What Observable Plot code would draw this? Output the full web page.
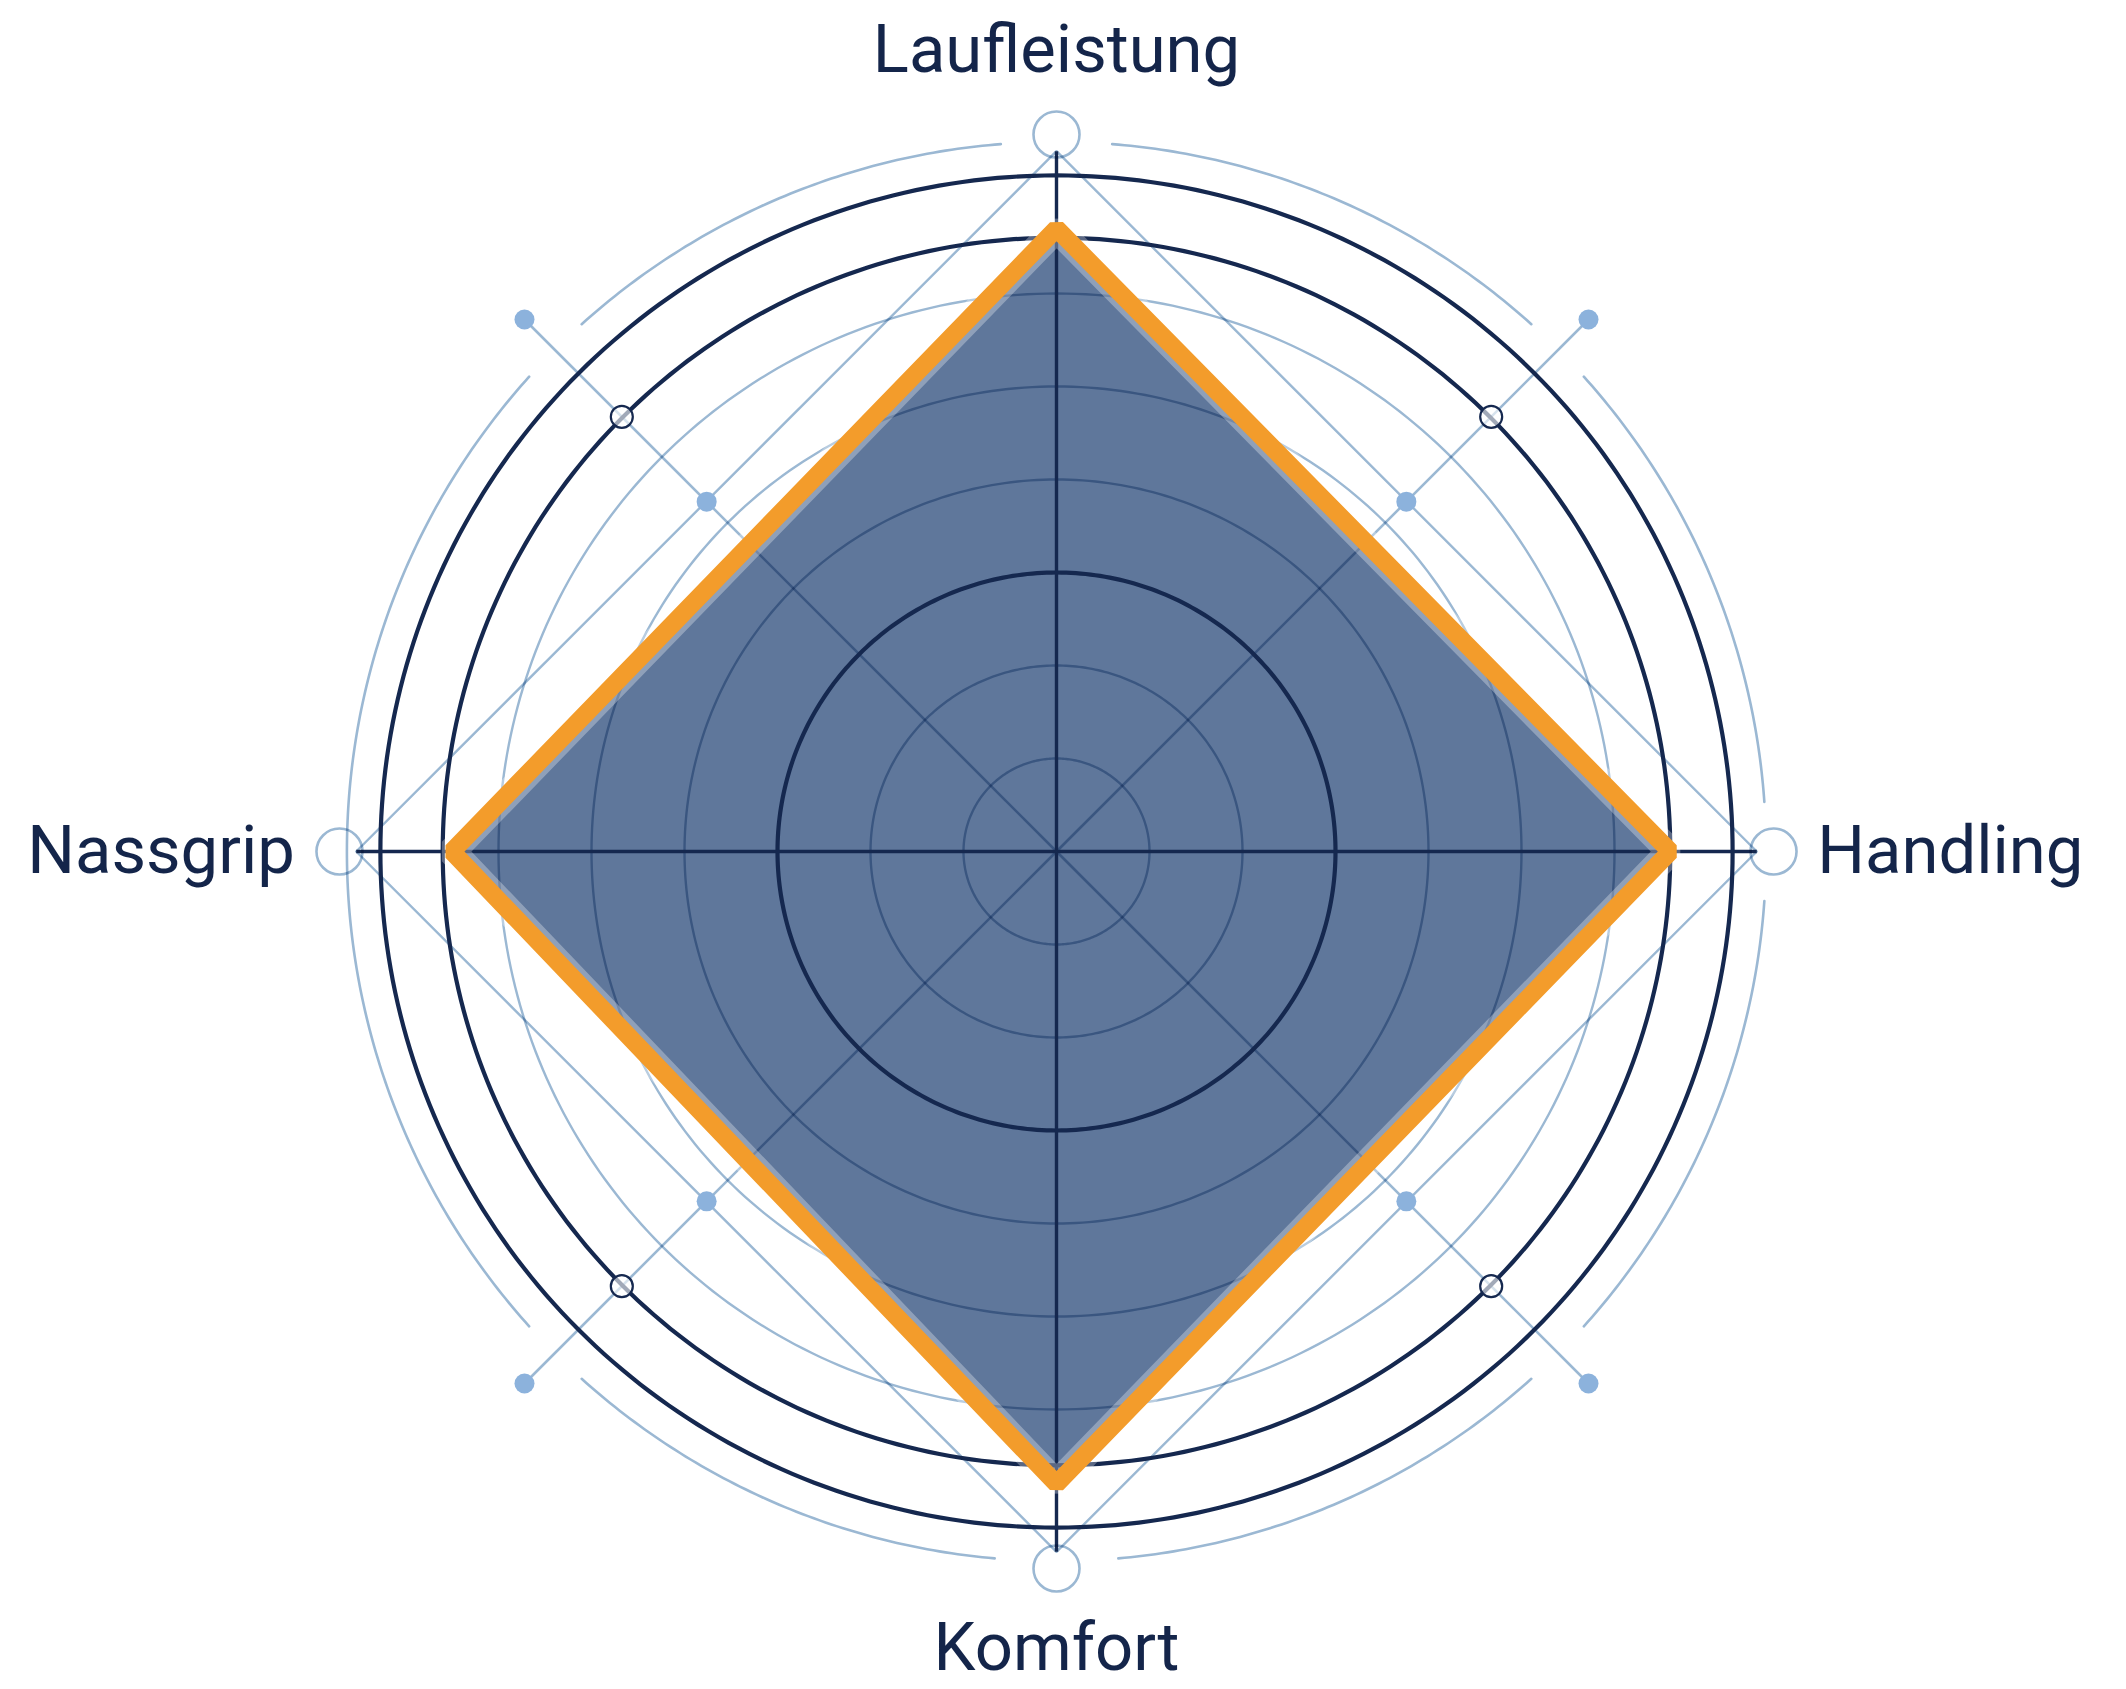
<!DOCTYPE html>
<html><head><meta charset="utf-8">
<script src="https://cdn.jsdelivr.net/npm/d3@7"></script>
<script src="https://cdn.jsdelivr.net/npm/@observablehq/plot@0.6"></script>
<style>
html,body{margin:0;padding:0;background:#fff;}
#chart svg{display:block}
</style></head><body><div id="chart"></div>
<script>
// ---- data ----
const categories = ["Laufleistung", "Handling", "Komfort", "Nassgrip"];
const axisAngles = [90, 0, 270, 180];          // degrees, counter-clockwise from east
const scores = [6.7, 6.6, 6.8, 6.5];            // radar values (grid units)
const lightRingLevels = [1, 2, 4, 5, 6];
const darkRingLevels = [3, 6.6, 7.27];
const outerRingLevel = 7.63;
const outerRingGaps = [[90, 4.5], [0, 4], [270, 5], [45, 3], [135, 3], [225, 3], [315, 3]];
const axisEndLevel = 7.53;
const diagonalAngles = [45, 135, 225, 315];
const diagonalEndLevel = 8.09;
const innerDotLevel = 5.32;
const markerLevel = 6.61;
const endCircleLevel = 7.71;
const labelLevels = [8.38, 8.18, 8.29, 8.19];

// ---- helpers ----
const rad = d => d * Math.PI / 180;
const P = (deg, r, extra = {}) => ({x: r * Math.cos(rad(deg)), y: r * Math.sin(rad(deg)), ...extra});

function ringPoints(levels) {
  const pts = [];
  levels.forEach((lv, i) => { for (let a = 0; a <= 360; a += 1) pts.push(P(a, lv, {z: i})); });
  return pts;
}
function gappedRing(level, gaps) {
  const pts = [];
  let seg = 0, prevIn = false;
  const inGap = a => gaps.some(([c, h]) => Math.abs(((a - c) % 360 + 540) % 360 - 180) < h);
  for (let a = 0; a <= 360; a += 0.5) {
    if (inGap(a)) { if (prevIn) seg++; prevIn = false; continue; }
    pts.push(P(a, level, {z: seg}));
    prevIn = true;
  }
  return pts;
}

const radar = categories.map((c, i) => P(axisAngles[i], scores[i], {category: c}));
const diamond = axisAngles.map(a => P(a, axisEndLevel));
const spokes = diagonalAngles.map(a => ({x1: 0, y1: 0, x2: P(a, diagonalEndLevel).x, y2: P(a, diagonalEndLevel).y}));
const axesLines = axisAngles.map(a => ({x1: 0, y1: 0, x2: P(a, axisEndLevel).x, y2: P(a, axisEndLevel).y}));
const innerDots = diagonalAngles.map(a => P(a, innerDotLevel));
const outerDots = diagonalAngles.map(a => P(a, diagonalEndLevel));
const markers = diagonalAngles.map(a => P(a, markerLevel));
const endCircles = axisAngles.map(a => P(a, endCircleLevel));
const labels = categories.map((c, i) => P(axisAngles[i], labelLevels[i], {label: c, i}));

// ---- layout: centre of web, 93 px per grid unit ----
const W = 2126, H = 1689, CX = 1056, CY = 851, U = 93;

const navy = "#15284f";
const light = "#9bb8d3";
const dotBlue = "#8cb2dc";
const orange = "#f39c2b";
const fillBlue = "#5f779b";
const font = "Roboto, 'Noto Sans', sans-serif";

const labelMark = (idx, textAnchor, lineAnchor) => Plot.text(labels.filter(d => d.i === idx), {
  x: "x", y: "y", text: "label", textAnchor, lineAnchor,
  fontSize: 67, fontFamily: font, fill: "#14254a", fontWeight: 400
});

const chart = Plot.plot({
  width: W, height: H,
  margin: 0,
  x: {domain: [-CX / U, (W - CX) / U], axis: null},
  y: {domain: [-(H - CY) / U, CY / U], axis: null},
  style: {background: "white"},
  marks: [
    // radar fill
    Plot.line(radar, {x: "x", y: "y", curve: "linear-closed", fill: fillBlue, stroke: "none"}),
    // light grid (multiplied over fill)
    Plot.line(ringPoints(lightRingLevels), {x: "x", y: "y", z: "z", stroke: light, strokeWidth: 2.4}),
    Plot.line(gappedRing(outerRingLevel, outerRingGaps), {x: "x", y: "y", z: "z", stroke: light, strokeWidth: 2.6}),
    Plot.link(spokes, {x1: "x1", y1: "y1", x2: "x2", y2: "y2", stroke: light, strokeWidth: 2.6}),
    Plot.line(diamond, {x: "x", y: "y", curve: "linear-closed", stroke: light, strokeWidth: 2.4}),
    // dark rings and axes
    Plot.line(ringPoints(darkRingLevels), {x: "x", y: "y", z: "z", stroke: navy, strokeWidth: 4.2}),
    Plot.link(axesLines, {x1: "x1", y1: "y1", x2: "x2", y2: "y2", stroke: navy, strokeWidth: 3.4}),
    // radar outline with faint halo
    Plot.line(radar, {x: "x", y: "y", curve: "linear-closed", stroke: "white", strokeWidth: 28, strokeOpacity: 0.3, strokeLinejoin: "miter"}),
    Plot.line(radar, {x: "x", y: "y", curve: "linear-closed", stroke: orange, strokeWidth: 18, strokeLinejoin: "miter"}),
    // decorations
    Plot.dot(innerDots, {x: "x", y: "y", r: 10, fill: dotBlue}),
    Plot.dot(outerDots, {x: "x", y: "y", r: 10, fill: dotBlue}),
    Plot.dot(markers, {x: "x", y: "y", r: 11, fill: "white", fillOpacity: 0.6, stroke: navy, strokeWidth: 2.2}),
    Plot.dot(endCircles, {x: "x", y: "y", r: 23, fill: "none", stroke: light, strokeWidth: 2.6}),
    // labels
    labelMark(0, "middle", "bottom"),
    labelMark(1, "start", "middle"),
    labelMark(2, "middle", "top"),
    labelMark(3, "end", "middle")
  ]
});
// light grid lines multiply over the blue fill (darker inside the web)
chart.querySelectorAll("g").forEach(g => {
  if ((g.getAttribute("stroke") || "").toLowerCase() === light) g.style.mixBlendMode = "multiply";
});
document.getElementById("chart").appendChild(chart);
</script></body></html>
